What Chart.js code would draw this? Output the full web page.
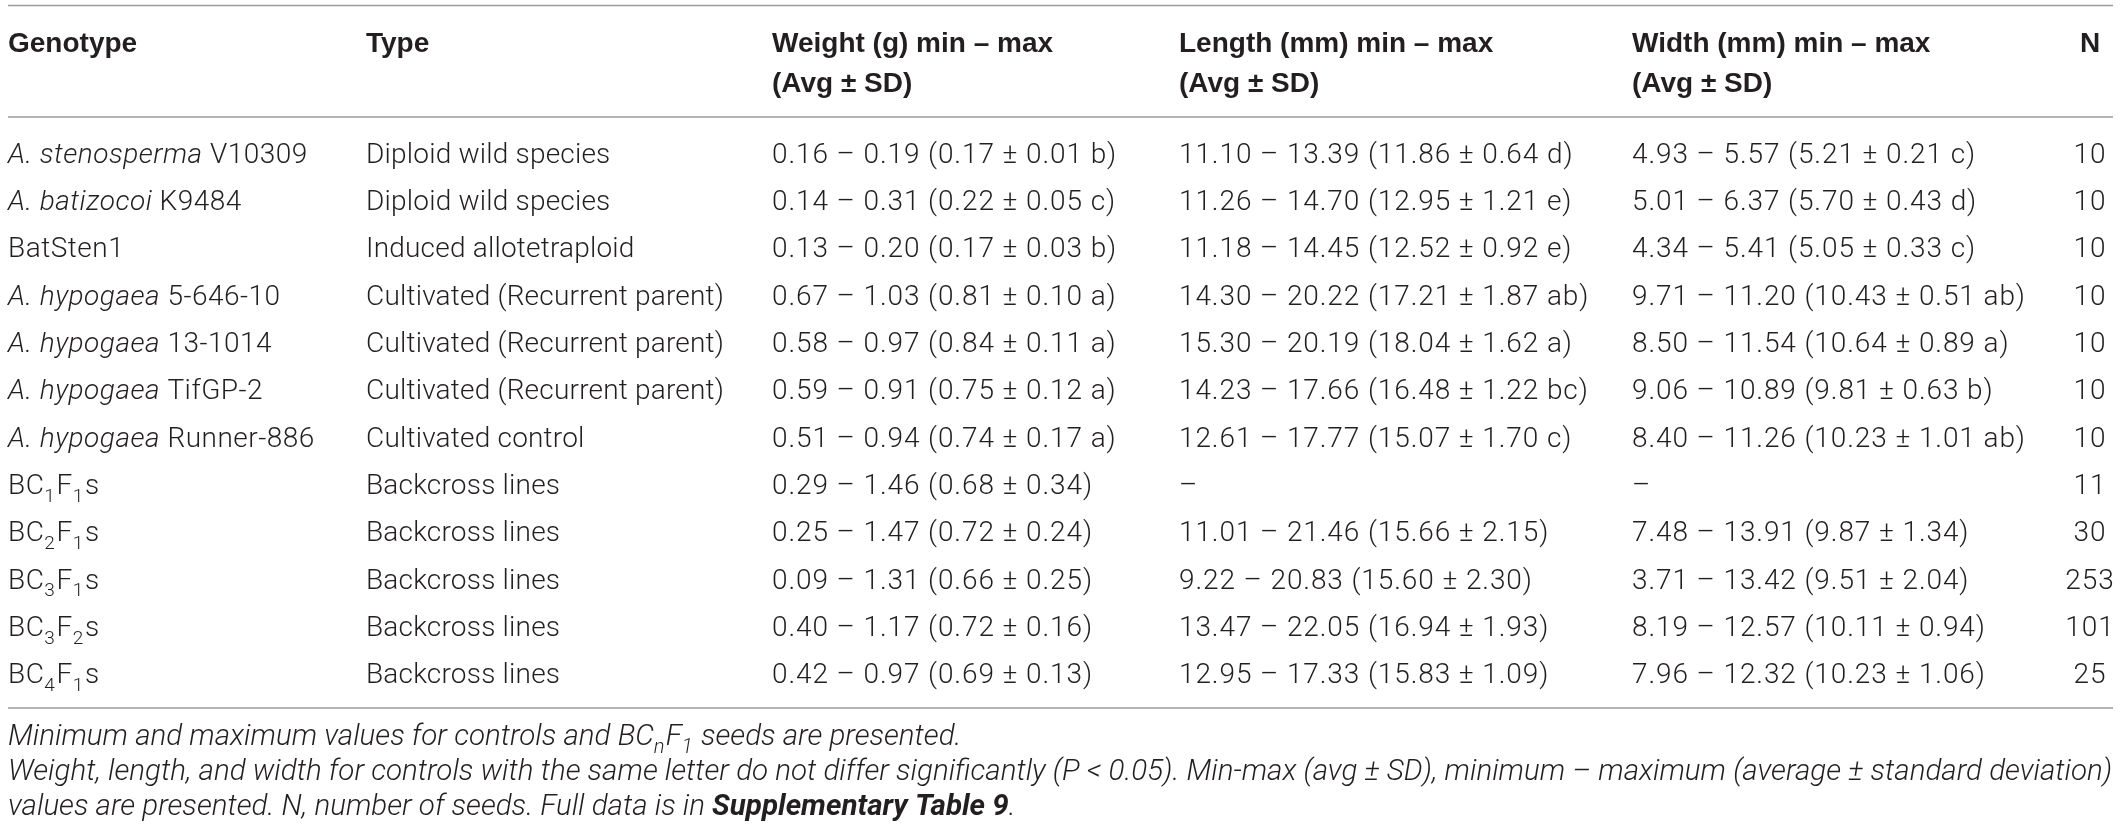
<!DOCTYPE html>
<html>
<head>
<meta charset="utf-8">
<script src="https://cdn.jsdelivr.net/npm/chart.js@4/dist/chart.umd.min.js"></script>
<style>
  html, body { margin: 0; padding: 0; background: #fff; }
  #wrap { width: 2120px; height: 831px; position: relative; }
</style>
</head>
<body>
<div id="wrap"><canvas id="seedTable"></canvas></div>
<script>
// Seed weight, length and width of controls and backcross lines
const genotypes = [
  "*A. stenosperma* V10309", "*A. batizocoi* K9484", "BatSten1",
  "*A. hypogaea* 5-646-10", "*A. hypogaea* 13-1014", "*A. hypogaea* TifGP-2",
  "*A. hypogaea* Runner-886", "BC_1F_1s", "BC_2F_1s", "BC_3F_1s", "BC_3F_2s", "BC_4F_1s"
];
const types = [
  "Diploid wild species", "Diploid wild species", "Induced allotetraploid",
  "Cultivated (Recurrent parent)", "Cultivated (Recurrent parent)", "Cultivated (Recurrent parent)",
  "Cultivated control", "Backcross lines", "Backcross lines", "Backcross lines",
  "Backcross lines", "Backcross lines"
];
const weightMin = [0.16, 0.14, 0.13, 0.67, 0.58, 0.59, 0.51, 0.29, 0.25, 0.09, 0.40, 0.42];
const weightMax = [0.19, 0.31, 0.20, 1.03, 0.97, 0.91, 0.94, 1.46, 1.47, 1.31, 1.17, 0.97];
const weightAvg = [0.17, 0.22, 0.17, 0.81, 0.84, 0.75, 0.74, 0.68, 0.72, 0.66, 0.72, 0.69];
const weightSD = [0.01, 0.05, 0.03, 0.10, 0.11, 0.12, 0.17, 0.34, 0.24, 0.25, 0.16, 0.13];
const weightGroup = ["b", "c", "b", "a", "a", "a", "a", "", "", "", "", ""];
const lengthMin = [11.10, 11.26, 11.18, 14.30, 15.30, 14.23, 12.61, null, 11.01, 9.22, 13.47, 12.95];
const lengthMax = [13.39, 14.70, 14.45, 20.22, 20.19, 17.66, 17.77, null, 21.46, 20.83, 22.05, 17.33];
const lengthAvg = [11.86, 12.95, 12.52, 17.21, 18.04, 16.48, 15.07, null, 15.66, 15.60, 16.94, 15.83];
const lengthSD = [0.64, 1.21, 0.92, 1.87, 1.62, 1.22, 1.70, null, 2.15, 2.30, 1.93, 1.09];
const lengthGroup = ["d", "e", "e", "ab", "a", "bc", "c", "", "", "", "", ""];
const widthMin = [4.93, 5.01, 4.34, 9.71, 8.50, 9.06, 8.40, null, 7.48, 3.71, 8.19, 7.96];
const widthMax = [5.57, 6.37, 5.41, 11.20, 11.54, 10.89, 11.26, null, 13.91, 13.42, 12.57, 12.32];
const widthAvg = [5.21, 5.70, 5.05, 10.43, 10.64, 9.81, 10.23, null, 9.87, 9.51, 10.11, 10.23];
const widthSD = [0.21, 0.43, 0.33, 0.51, 0.89, 0.63, 1.01, null, 1.34, 2.04, 0.94, 1.06];
const widthGroup = ["c", "d", "c", "ab", "a", "b", "ab", "", "", "", "", ""];
const seeds = [10, 10, 10, 10, 10, 10, 10, 11, 30, 253, 101, 25];

const headers = [
  ["Genotype"], ["Type"],
  ["Weight (g) min \u2013 max", "(Avg \u00b1 SD)"],
  ["Length (mm) min \u2013 max", "(Avg \u00b1 SD)"],
  ["Width (mm) min \u2013 max", "(Avg \u00b1 SD)"],
  ["N"]
];
const notes = [
  "*Minimum and maximum values for controls and BC_nF_1 seeds are presented.*",
  "*Weight, length, and width for controls with the same letter do not differ significantly (P < 0.05). Min-max (avg \u00b1 SD), minimum \u2013 maximum (average \u00b1 standard deviation)*",
  "*values are presented. N, number of seeds. Full data is in **Supplementary Table 9**.*"
];

// layout
const W = 2120, H = 831;
const colX = [8, 366, 772, 1179, 1632, 2090];
const colSpacing = ["0.5px", "0.2px", "0.9px", "0.9px", "0.9px", "0.9px"];
const ruleL = 8, ruleR = 2113;
const ROW0 = 153, ROWH = 47.3;
const INK = "#231f20";
const BODY = "Roboto, 'Liberation Sans', sans-serif";
const HEAD = "'Liberation Sans', Arial, sans-serif";
const FS = 28;

function cell(mn, mx, av, sd, g) {
  if (mn == null) return "\u2013";
  return mn.toFixed(2) + " \u2013 " + mx.toFixed(2) + " (" + av.toFixed(2) + " \u00b1 " +
    sd.toFixed(2) + (g ? " " + g : "") + ")";
}

// tiny markup: *italic*, **bold**, _x subscript
function parse(str) {
  const segs = [];
  let it = false, bd = false, buf = "";
  const flush = () => { if (buf) segs.push({ t: buf, it, bd, sub: false }); buf = ""; };
  for (let i = 0; i < str.length; i++) {
    if (str[i] === "*" && str[i + 1] === "*") { flush(); bd = !bd; i++; continue; }
    if (str[i] === "*") { flush(); it = !it; continue; }
    if (str[i] === "_") { flush(); segs.push({ t: str[i + 1], it, bd, sub: true }); i++; continue; }
    buf += str[i];
  }
  flush();
  return segs;
}

function font(seg, size, family, weight) {
  const s = seg.sub ? size * 0.68 : size;
  return (seg.it ? "italic " : "") + (seg.bd ? "bold " : weight + " ") + s + "px " + family;
}

function richWidth(ctx, segs, size, family, weight) {
  let w = 0;
  segs.forEach(s => { ctx.font = font(s, size, family, weight); w += ctx.measureText(s.t).width; });
  return w;
}

function drawRich(ctx, str, x, y, size, family, weight, align) {
  const segs = parse(str);
  if (align === "center") x -= richWidth(ctx, segs, size, family, weight) / 2;
  segs.forEach(s => {
    ctx.font = font(s, size, family, weight);
    ctx.fillText(s.t, x, s.sub ? y + size * 0.28 : y);
    x += ctx.measureText(s.t).width + (s.sub ? size * 0.04 : 0);
  });
}

const tablePlugin = {
  id: "tablePlugin",
  afterDraw(chart) {
    const ctx = chart.ctx, xs = chart.scales.x, ys = chart.scales.y;
    ctx.save();
    ctx.fillStyle = INK;
    ctx.textAlign = "left";
    ctx.textBaseline = "alphabetic";

    // rules
    ctx.strokeStyle = "#9b9b9b";
    ctx.lineWidth = 1.6;
    [5.5, 117, 708].forEach(py => {
      ctx.beginPath();
      ctx.moveTo(xs.getPixelForValue(ruleL), py);
      ctx.lineTo(xs.getPixelForValue(ruleR), py);
      ctx.stroke();
    });

    // header
    ctx.letterSpacing = "0px";
    headers.forEach((lines, c) => {
      lines.forEach((txt, k) => {
        ctx.font = "bold " + FS + "px " + HEAD;
        ctx.textAlign = c === 5 ? "center" : "left";
        ctx.fillText(txt, xs.getPixelForValue(colX[c]), 52 + k * 40);
      });
    });
    ctx.textAlign = "left";

    // body rows
    genotypes.forEach((g, i) => {
      const py = ys.getPixelForValue(i) + FS * 0.35;
      const vals = [
        g, types[i],
        cell(weightMin[i], weightMax[i], weightAvg[i], weightSD[i], weightGroup[i]),
        cell(lengthMin[i], lengthMax[i], lengthAvg[i], lengthSD[i], lengthGroup[i]),
        cell(widthMin[i], widthMax[i], widthAvg[i], widthSD[i], widthGroup[i]),
        String(seeds[i])
      ];
      vals.forEach((v, c) => {
        ctx.letterSpacing = colSpacing[c];
        drawRich(ctx, v, xs.getPixelForValue(colX[c]), py, FS, BODY, 300, c === 5 ? "center" : "left");
      });
    });

    // footnotes, sized so the long line spans the table
    ctx.letterSpacing = "0px";
    const base = 26;
    const wLong = richWidth(ctx, parse(notes[1]), base, BODY, 300);
    const fs = base * (xs.getPixelForValue(ruleR) - xs.getPixelForValue(ruleL)) / wLong;
    [745, 780, 815].forEach((py, k) => {
      drawRich(ctx, notes[k], xs.getPixelForValue(ruleL), py, fs, BODY, 300, "left");
    });
    ctx.restore();
  }
};

new Chart(document.getElementById("seedTable").getContext("2d"), {
  type: "scatter",
  data: { datasets: [] },
  options: {
    responsive: true,
    maintainAspectRatio: false,
    animation: false,
    layout: { padding: 0 },
    plugins: { legend: { display: false }, tooltip: { enabled: false } },
    scales: {
      x: { type: "linear", min: 0, max: W, display: false },
      y: { type: "linear", min: -ROW0 / ROWH, max: (H - ROW0) / ROWH, reverse: true, display: false }
    }
  },
  plugins: [tablePlugin]
});
</script>
</body>
</html>
